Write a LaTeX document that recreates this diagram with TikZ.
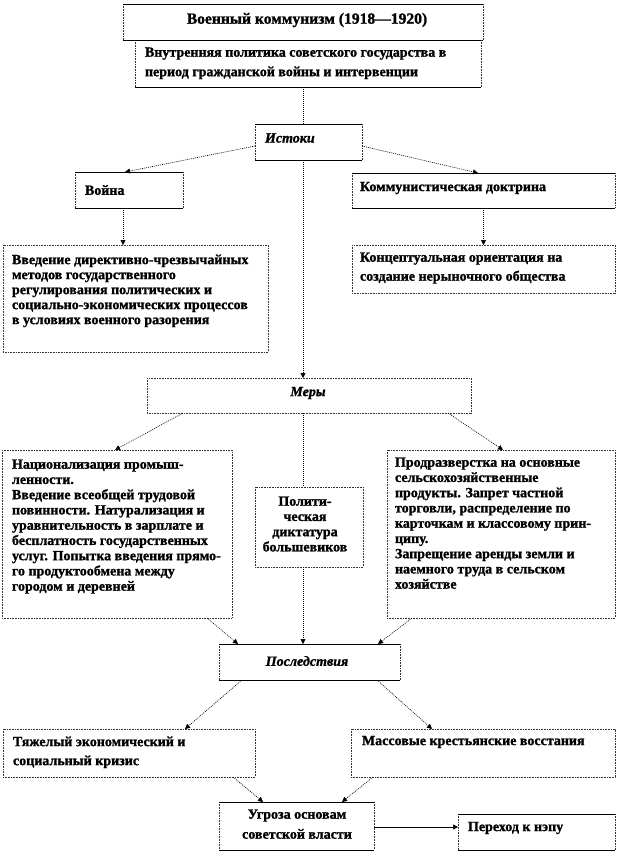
\documentclass[tikz,border=0pt]{standalone}
\usepackage{fontspec}
\setmainfont{Liberation Serif}[BoldFeatures={FakeBold=1.2},BoldItalicFeatures={FakeBold=1.2}]
\usetikzlibrary{arrows.meta,calc}
\begin{document}
\begin{tikzpicture}[x=1pt,y=-1pt,
  boxn/.style={draw=none,anchor=north west,inner sep=0pt,outer sep=0pt},
  edgesolid/.style={line width=0.7pt,black},
  edgedot/.style={line width=0.8pt,black!80,dash pattern=on 0.8pt off 0.8pt},
  conn/.style={line width=0.6pt,black,dash pattern=on 1pt off 1pt,-{Triangle[length=5pt,width=5pt]}},
  plainconn/.style={line width=0.6pt,black,dash pattern=on 1pt off 1pt},
  solidconn/.style={line width=0.7pt,black,-{Triangle[length=5pt,width=5pt]}},
  txt/.style={inner sep=0pt,outer sep=0pt,font=\fontsize{14}{15.25}\selectfont\bfseries,align=left},
  txtw/.style={inner sep=0pt,outer sep=0pt,font=\fontsize{14}{19.5}\selectfont\bfseries,align=left},
  txti/.style={inner sep=0pt,outer sep=0pt,font=\fontsize{14}{15}\selectfont\bfseries\itshape}
]
\fill[white] (0,0) rectangle (618,852);
\useasboundingbox (0,0) rectangle (618,852);

% boxes
\node[boxn,minimum width=360pt,minimum height=36pt] (title) at (123,4) {};
\node[boxn,minimum width=346pt,minimum height=47pt] (vnutr) at (135,40) {};
\node[boxn,minimum width=107pt,minimum height=36pt] (istoki) at (255,124) {};
\node[boxn,minimum width=108pt,minimum height=36pt] (voina) at (75,172) {};
\node[boxn,minimum width=265pt,minimum height=107pt] (vved) at (3,245) {};
\node[boxn,minimum width=263pt,minimum height=35pt] (komm) at (352,173) {};
\node[boxn,minimum width=263pt,minimum height=48pt] (konc) at (352,245) {};
\node[boxn,minimum width=324pt,minimum height=35pt] (mery) at (147,378) {};
\node[boxn,minimum width=230pt,minimum height=168pt] (leftm) at (2,450) {};
\node[boxn,minimum width=108pt,minimum height=80pt] (midm) at (255,487) {};
\node[boxn,minimum width=228pt,minimum height=168pt] (rightm) at (387,450) {};
\node[boxn,minimum width=181pt,minimum height=36pt] (posl) at (219,644) {};
\node[boxn,minimum width=252pt,minimum height=48pt] (tyazh) at (3,729) {};
\node[boxn,minimum width=264pt,minimum height=48pt] (mass) at (351,729) {};
\node[boxn,minimum width=155pt,minimum height=48pt] (ugr) at (219,802) {};
\node[boxn,minimum width=157pt,minimum height=36pt] (perex) at (458,814) {};

\foreach \n in {title,vnutr,istoki,voina,komm,posl,ugr,perex}{
  \draw[edgedot] (\n.north west) -- (\n.south west) (\n.north east) -- (\n.south east);
  \draw[edgesolid] (\n.north west) -- (\n.north east) (\n.south west) -- (\n.south east);
}
\foreach \n in {vved,konc,mery,leftm,midm,rightm,tyazh,mass}{
  \draw[edgedot] (\n.north west) rectangle (\n.south east);
}

% texts
\node[txt,anchor=center,font=\fontsize{15.6}{17}\selectfont\bfseries] (ttitle) at (307,20) {Военный коммунизм (1918—1920)};
\node[txtw,anchor=north west] (tvnutr) at (145,47.5) {Внутренняя политика  советского государства в\\период гражданской войны  и интервенции};
\node[txti,anchor=west] (tistoki) at (265,138) {Истоки};
\node[txt,anchor=west] (tvoina) at (85,190) {Война};
\node[txt,anchor=north west,font=\fontsize{14}{15}\selectfont\bfseries] (tvved) at (12,254.5) {Введение директивно-чрезвычайных\\методов государственного\\регулирования  политических  и\\социально-экономических  процессов\\в условиях военного разорения};
\node[txt,anchor=west] (tkomm) at (360,188) {Коммунистическая доктрина};
\node[txt,anchor=north west,font=\fontsize{14}{19}\selectfont\bfseries] (tkonc) at (360,252.5) {Концептуальная ориентация на\\создание нерыночного  общества};
\node[txti,anchor=center] (tmery) at (308,393) {Меры};
\node[txt,anchor=north west] (tleftm) at (12,459.5) {Национализация  промыш-\\ленности.\\Введение всеобщей трудовой\\повинности.  Натурализация и\\уравнительность в зарплате и\\бесплатность государственных\\услуг. Попытка введения прямо-\\го продуктообмена между\\городом и деревней};
\node[txt,anchor=north,align=center] (tmidm) at (305,496.5) {Полити-\\ческая\\диктатура\\большевиков};
\node[txt,anchor=north west] (trightm) at (395,457.5) {Продразверстка на основные\\сельскохозяйственные\\продукты. Запрет частной\\торговли, распределение по\\карточкам и классовому прин-\\ципу.\\Запрещение аренды земли и\\наемного труда в сельском\\хозяйстве};
\node[txti,anchor=center] (tposl) at (307,661) {Последствия};
\node[txt,anchor=north west,font=\fontsize{14}{19}\selectfont\bfseries] (ttyazh) at (13,736.5) {Тяжелый экономический  и\\социальный  кризис};
\node[txt,anchor=west] (tmass) at (362,742) {Массовые крестьянские восстания};
\node[txt,anchor=north,align=center,font=\fontsize{14}{20}\selectfont\bfseries] (tugr) at (297,809.5) {Угроза основам\\советской власти};
\node[txt,anchor=west] (tperex) at (468,828) {Переход к нэпу};

% connectors
\draw[plainconn] ([xshift=-5pt]vnutr.south) -- ([xshift=-5pt]vnutr.south |- istoki.north);
\draw[conn] ([yshift=-4pt]istoki.west) -- ([xshift=-4pt]voina.north);
\draw[conn] ([yshift=-4pt]istoki.east) -- ([xshift=-5.5pt]komm.north);
\draw[conn] ([xshift=-6pt]voina.south) -- ([xshift=-6pt]voina.south |- vved.north);
\draw[conn] (komm.south) -- (komm.south |- konc.north);
\draw[conn] ([xshift=-5.5pt]istoki.south) -- ([xshift=-5.5pt]istoki.south |- mery.north);
\draw[conn] ([xshift=36pt]mery.south west) -- ([xshift=-2pt]leftm.north);
\draw[plainconn] ([xshift=-6pt]mery.south) -- ([xshift=-6pt]mery.south |- midm.north);
\draw[conn] ([xshift=-23pt]mery.south east) -- ([xshift=2pt]rightm.north);
\draw[conn] ([xshift=-25pt]leftm.south east) -- ([xshift=19pt]posl.north west);
\draw[conn] ([xshift=-6pt]midm.south) -- ([xshift=-6pt]midm.south |- posl.north);
\draw[conn] ([xshift=25pt]rightm.south west) -- ([xshift=-22pt]posl.north east);
\draw[conn] ([xshift=23pt]posl.south west) -- ([xshift=-70pt]tyazh.north east);
\draw[conn] ([xshift=-23pt]posl.south east) -- ([xshift=81pt]mass.north west);
\draw[conn] ([xshift=-22pt]tyazh.south east) -- ([xshift=44pt]ugr.north west);
\draw[conn] ([xshift=22pt]mass.south west) -- ([xshift=-32pt]ugr.north east);
\draw[solidconn] ([yshift=-1pt]ugr.east) -- ([yshift=-1pt]ugr.east -| perex.west);
\end{tikzpicture}
\end{document}
